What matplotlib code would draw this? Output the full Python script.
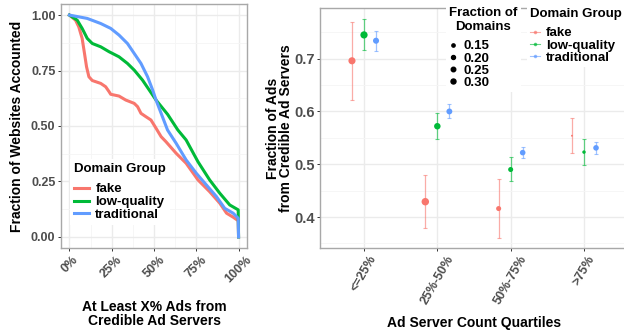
import numpy as np
import matplotlib
matplotlib.use("Agg")
import matplotlib.pyplot as plt
from matplotlib.lines import Line2D

plt.rcParams["font.family"] = ["Liberation Sans", "DejaVu Sans"]
plt.rcParams["font.weight"] = "bold"

# --- left panel: share of websites with at least X% ads from credible servers ---
fake_x = [0, 0.036, 0.055, 0.075, 0.089, 0.101, 0.115, 0.135, 0.185, 0.214, 0.234,
          0.244, 0.293, 0.333, 0.383, 0.403, 0.423, 0.452, 0.482, 0.512, 0.542, 0.571,
          0.631, 0.69, 0.76, 0.829, 0.889, 0.929, 0.968, 0.998, 1.0]
fake_y = [1.0, 0.977, 0.947, 0.895, 0.827, 0.767, 0.722, 0.705, 0.692, 0.677, 0.655,
          0.643, 0.635, 0.617, 0.602, 0.587, 0.557, 0.542, 0.527, 0.49, 0.452, 0.429,
          0.377, 0.332, 0.257, 0.204, 0.152, 0.107, 0.089, 0.073, 0.0]
lowq_x = [0, 0.046, 0.075, 0.105, 0.135, 0.185, 0.234, 0.293, 0.343, 0.383, 0.432,
          0.472, 0.512, 0.581, 0.641, 0.69, 0.76, 0.829, 0.889, 0.948, 0.998, 1.0]
lowq_y = [1.0, 0.977, 0.94, 0.895, 0.872, 0.857, 0.835, 0.812, 0.782, 0.752, 0.707,
          0.662, 0.617, 0.552, 0.482, 0.437, 0.339, 0.257, 0.197, 0.144, 0.122, 0.0]
trad_x = [0, 0.105, 0.185, 0.244, 0.293, 0.343, 0.383, 0.423, 0.462, 0.492, 0.512,
          0.58, 0.631, 0.69, 0.75, 0.81, 0.869, 0.918, 0.968, 0.998, 1.0]
trad_y = [1.0, 0.985, 0.962, 0.94, 0.91, 0.872, 0.827, 0.782, 0.722, 0.662, 0.617,
          0.482, 0.422, 0.347, 0.287, 0.234, 0.182, 0.129, 0.107, 0.084, 0.0]

# --- right panel: mean fraction of credible ads per ad-server-count quartile ---
quartiles = ["<=25%", "25%-50%", "50%-75%", ">75%"]
groups = ["fake", "low-quality", "traditional"]
mean_frac = {
    "fake":        [0.696, 0.429, 0.416, 0.554],
    "low-quality": [0.745, 0.572, 0.490, 0.523],
    "traditional": [0.734, 0.600, 0.522, 0.531],
}
ci_low = {
    "fake":        [0.621, 0.379, 0.360, 0.521],
    "low-quality": [0.716, 0.547, 0.468, 0.499],
    "traditional": [0.715, 0.587, 0.511, 0.519],
}
ci_high = {
    "fake":        [0.770, 0.479, 0.472, 0.587],
    "low-quality": [0.775, 0.598, 0.514, 0.547],
    "traditional": [0.753, 0.614, 0.532, 0.542],
}
domain_frac = {
    "fake":        [0.31, 0.34, 0.17, 0.09],
    "low-quality": [0.32, 0.26, 0.17, 0.11],
    "traditional": [0.23, 0.22, 0.20, 0.20],
}
size_breaks = [0.15, 0.20, 0.25, 0.30]

colors = {"fake": "#F8766D", "low-quality": "#00BA38", "traditional": "#619CFF"}
TICK_C = "#4D4D4D"
GRID = "#EBEBEB"
GRID_MINOR = "#F5F5F5"
BORDER = "#A8A8A8"
TITLE_FS = 10.0
LEG_FS = 9.5


def dot_px(f):
    """diameter (px) of a size-legend key for fraction f"""
    return 1.34 + 7.98 * np.sqrt(max(f - 0.09, 0.0))


FATTEN = 1.4  # pointrange points are drawn bigger than the size keys


def style(ax, labelsize):
    for sp in ax.spines.values():
        sp.set_color(BORDER)
        sp.set_linewidth(1.0)
    ax.tick_params(which="major", length=2.5, width=0.7, color="#333333",
                   labelcolor=TICK_C, labelsize=labelsize, pad=1.5)
    ax.tick_params(which="minor", length=0)
    ax.grid(True, which="major", color=GRID, lw=1.0, zorder=0)
    ax.grid(True, which="minor", color=GRID_MINOR, lw=0.6, zorder=0)
    ax.set_axisbelow(True)


def leg_kw(title):
    return dict(title=title, prop={"size": LEG_FS, "weight": "bold"},
                title_fontproperties={"size": LEG_FS, "weight": "bold"},
                frameon=True, facecolor="white", edgecolor="none", framealpha=1,
                fancybox=False, borderaxespad=0)


fig = plt.figure(figsize=(6.24, 3.35), dpi=100)

# ---------------- left panel ----------------
ax1 = fig.add_axes([61 / 624, 87 / 335, 186 / 624, 244 / 335])
style(ax1, 9)
for name, xs, ys in [("fake", fake_x, fake_y), ("low-quality", lowq_x, lowq_y),
                     ("traditional", trad_x, trad_y)]:
    ax1.plot(xs, ys, color=colors[name], lw=2.2, label=name)
ax1.set_xlim(-0.05, 1.05)
ax1.set_ylim(-0.05, 1.05)
ax1.set_xticks([0, 0.25, 0.5, 0.75, 1.0])
ax1.set_xticklabels(["0%", "25%", "50%", "75%", "100%"], rotation=45, ha="center",
                    va="top", fontweight="bold")
ax1.set_xticks([0.125, 0.375, 0.625, 0.875], minor=True)
ax1.set_yticks([0, 0.25, 0.5, 0.75, 1.0])
ax1.set_yticklabels(["0.00", "0.25", "0.50", "0.75", "1.00"], fontweight="bold")
ax1.set_yticks([0.125, 0.375, 0.625, 0.875], minor=True)
ax1.set_xlabel("At Least X% Ads from\nCredible Ad Servers", fontsize=TITLE_FS,
               fontweight="bold", labelpad=11, linespacing=1.0)
ax1.set_ylabel("Fraction of Websites Accounted", fontsize=TITLE_FS, fontweight="bold",
               labelpad=5)
leg1 = ax1.legend(loc="lower left", bbox_to_anchor=(0.05, 0.094),
                  handlelength=1.1, handletextpad=0.5, labelspacing=0.05,
                  borderpad=0.3, **leg_kw("Domain Group"))
leg1._legend_box.align = "left"
leg1._legend_box.sep = 6

# ---------------- right panel ----------------
ax2 = fig.add_axes([320 / 624, 87 / 335, 308 / 624, 240 / 335])
style(ax2, 10.5)
ax2.tick_params(axis="x", labelsize=9)
ax2.tick_params(axis="y", pad=1)
xpos = np.arange(len(quartiles))
dodge = {"fake": -0.164, "low-quality": 0.0, "traditional": 0.164}
for name in groups:
    m = np.array(mean_frac[name])
    lo = m - np.array(ci_low[name])
    hi = np.array(ci_high[name]) - m
    xx = xpos + dodge[name]
    ax2.errorbar(xx, m, yerr=[lo, hi], fmt="none", ecolor=colors[name], alpha=0.6,
                 elinewidth=0.9, capsize=1.1, capthick=0.8, zorder=2)
    sizes = [(FATTEN * dot_px(f) * 0.72) ** 2 for f in domain_frac[name]]
    ax2.scatter(xx, m, s=sizes, color=colors[name], edgecolors="none", zorder=3)
ax2.set_xlim(-0.6, len(quartiles) - 0.4)
ax2.set_ylim(0.3413, 0.796)
ax2.set_xticks(xpos)
ax2.set_xticklabels(quartiles, rotation=60, ha="center", va="top", fontweight="bold")
ax2.set_yticks([0.4, 0.5, 0.6, 0.7])
ax2.set_yticklabels(["0.4", "0.5", "0.6", "0.7"], fontweight="bold")
ax2.set_yticks([0.35, 0.45, 0.55, 0.65, 0.75], minor=True)
ax2.set_xlabel("Ad Server Count Quartiles", fontsize=TITLE_FS, fontweight="bold",
               labelpad=7)
ax2.set_ylabel("Fraction of Ads\nfrom Credible Ad Servers", fontsize=TITLE_FS,
               fontweight="bold", labelpad=1, linespacing=0.9)

size_handles = [Line2D([0], [0], ls="none", marker="o", color="black",
                       markersize=dot_px(f) * 0.72, label=f"{f:.2f}")
                for f in size_breaks]
leg_size = ax2.legend(handles=size_handles, loc="upper left",
                      bbox_to_anchor=(446 / 624, 1 - 4 / 335),
                      bbox_transform=fig.transFigure,
                      handlelength=0.6, handletextpad=0.5, labelspacing=0.0,
                      borderpad=0.25, **leg_kw("Fraction of\nDomains"))
leg_size.get_title().set_multialignment("center")
leg_size.get_title().set_linespacing(1.2)
leg_size._legend_box.align = "left"
leg_size._legend_box.sep = 5
ax2.add_artist(leg_size)

group_handles = [Line2D([0], [0], color=colors[g], lw=0.8, alpha=0.6, marker="o",
                        markersize=1.6, label=g) for g in groups]
leg_grp = ax2.legend(handles=group_handles, loc="upper left",
                     bbox_to_anchor=(527 / 624, 1 - 5 / 335),
                     bbox_transform=fig.transFigure,
                     handlelength=0.7, handletextpad=0.5, labelspacing=0.0,
                     borderpad=0.25, **leg_kw("Domain Group"))
leg_grp._legend_box.align = "left"
leg_grp._legend_box.sep = 5

fig.savefig("out.png", dpi=100)
